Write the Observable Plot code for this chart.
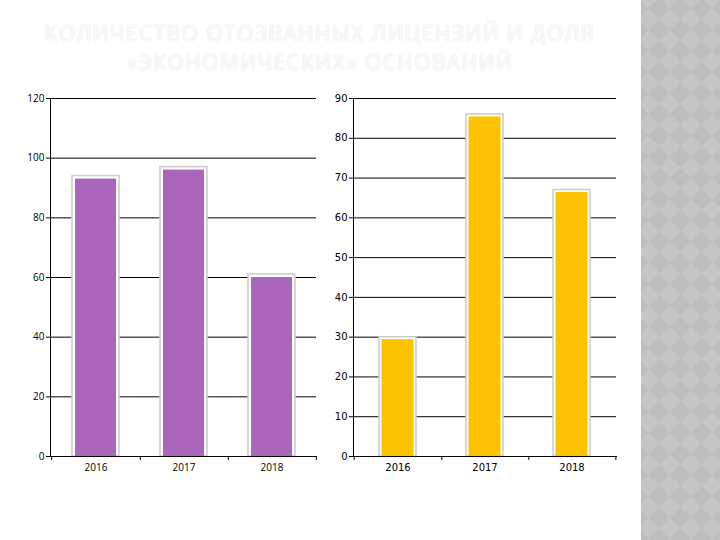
<!DOCTYPE html>
<html>
<head>
<meta charset="utf-8">
<script src="https://cdn.jsdelivr.net/npm/d3@7"></script>
<script src="https://cdn.jsdelivr.net/npm/@observablehq/plot@0.6"></script>
<style>
  html, body { margin: 0; padding: 0; background: #fff; }
  #page { position: relative; width: 720px; height: 540px; overflow: hidden; background: #fff; }
  #panel {
    position: absolute; left: 641px; top: 0; width: 79px; height: 540px;
    overflow: hidden; background: #c3c3c3;
  }
  #panel .pat {
    position: absolute; left: -300px; top: -200px; width: 700px; height: 940px;
    transform: rotate(45deg);
    background: conic-gradient(#bebebe 25%, #c6c6c6 0 50%, #bebebe 0 75%, #c6c6c6 0);
    background-size: 30px 30px;
  }
  #title {
    position: absolute; left: 0; top: 19px; width: 640px; text-align: center;
    font-family: "Open Sans", sans-serif; font-size: 21px; line-height: 29px;
    color: #fbfbf6; text-transform: uppercase; letter-spacing: 1.4px;
    text-shadow: 0 0 2px rgba(0,0,0,0.14);
  }
  #title div { height: 29px; }
  .chart { position: absolute; top: 90px; }
</style>
</head>
<body>
<div id="page">
  <div id="panel"><div class="pat"></div></div>
  <div id="title"><div>Количество отозванных лицензий и доля</div><div>«экономических» оснований</div></div>
  <div id="left" class="chart" style="left:0px"></div>
  <div id="right" class="chart" style="left:330px"></div>
</div>
<script>
// ---- data ----
const years = ["2016", "2017", "2018"];
const revokedLicenses = [94, 97, 61];
const economicShare = [30, 86, 67];
const leftTicks = [0, 20, 40, 60, 80, 100, 120];
const rightTicks = [0, 10, 20, 30, 40, 50, 60, 70, 80, 90];

function makeChart({values, ticks, max, color, width, marginLeft, marginRight, padding, inset, font}) {
  const height = 390, marginTop = 8, marginBottom = 24;
  const data = years.map((y, i) => ({year: y, value: values[i]}));
  const step = (width - marginLeft - marginRight) / years.length;
  return Plot.plot({
    width, height, marginTop, marginBottom, marginLeft, marginRight,
    style: {fontFamily: font, fontSize: "10px", color: "#000", background: "transparent"},
    x: {domain: years, paddingInner: padding, paddingOuter: padding / 2, label: null, axis: null},
    y: {domain: [0, max], label: null, axis: null},
    marks: [
      Plot.ruleY(ticks, {stroke: "#000", strokeWidth: 1}),
      Plot.barY(data, {x: "year", y: "value", fill: "#fff", stroke: "#cbcbcb", strokeWidth: 1.5}),
      Plot.barY(data, {x: "year", y: "value", fill: color, insetLeft: inset, insetRight: inset, insetTop: inset}),
      Plot.axisY({ticks, tickSize: 4, tickPadding: 2, stroke: "#000", fill: "#000"}),
      Plot.axisX({tickSize: 0, tickPadding: 7, fill: "#000"}),
      Plot.frame({anchor: "left", stroke: "#000"}),
      Plot.frame({anchor: "bottom", stroke: "#000"}),
      Plot.ruleX(years, {x: d => d, y1: 0, y2: 0, insetBottom: -4, dx: step / 2, stroke: "#000"}),
      Plot.ruleX([years[0]], {x: d => d, y1: 0, y2: 0, insetBottom: -4, dx: -step / 2, stroke: "#000"})
    ]
  });
}

document.getElementById("left").append(makeChart({
  values: revokedLicenses, ticks: leftTicks, max: 120, color: "#a966bb",
  width: 330, marginLeft: 50, marginRight: 14, padding: 0.47, inset: 3,
  font: "'Open Sans', sans-serif"
}));
document.getElementById("right").append(makeChart({
  values: economicShare, ticks: rightTicks, max: 90, color: "#fdc300",
  width: 300, marginLeft: 23, marginRight: 14, padding: 0.58, inset: 2.5,
  font: "'DejaVu Sans', sans-serif"
}));
</script>
</body>
</html>
